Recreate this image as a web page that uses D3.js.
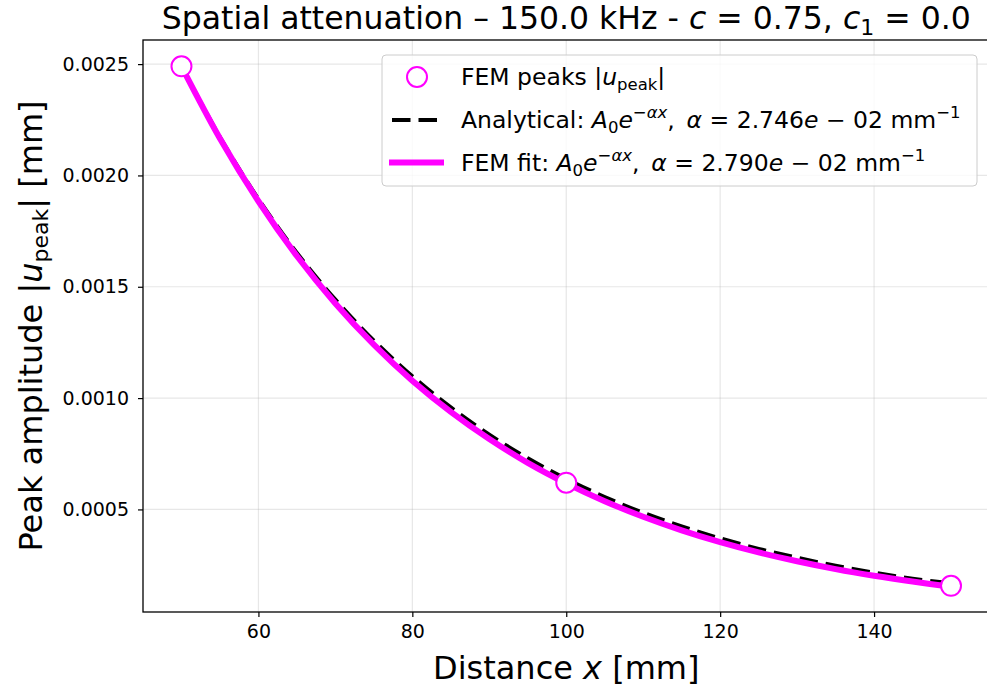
<!DOCTYPE html>
<html><head><meta charset="utf-8">
<script src="https://cdn.jsdelivr.net/npm/d3@7"></script>
<style>
body{margin:0;background:#fff;}
text{font-family:"DejaVu Sans",sans-serif;}
</style></head>
<body><svg id="c" width="987" height="691"></svg>
<script>
// Data
const peakX = [50, 100, 150];
const peakY = [0.002490, 0.000620, 0.000157];
const curveX = [50,55,60,65,70,75,80,85,90,95,100,105,110,115,120,125,130,135,140,145,150];
const fitY = [0.002490,0.002166,0.001884,0.001638,0.001425,0.001240,0.001078,0.000938,0.000816,0.000709,0.000617,0.000537,0.000467,0.000406,0.000353,0.000307,0.000267,0.000232,0.000202,0.000176,0.000153];
const anaY = [0.002490,0.002172,0.001894,0.001652,0.001442,0.001258,0.001098,0.000958,0.000836,0.000730,0.000637,0.000556,0.000485,0.000424,0.000370,0.000323,0.000283,0.000247,0.000216,0.000189,0.000168];
const xTicks = [60, 80, 100, 120, 140];
const yTicks = [0.0005, 0.0010, 0.0015, 0.0020, 0.0025];

const svg = d3.select("#c");
const L = 143, R = 989.5, T = 40, B = 612;
const x = d3.scaleLinear().domain([45, 155]).range([L, R]);
const y = d3.scaleLinear().domain([0.0000393, 0.0026083]).range([B, T]);

svg.append("defs").append("clipPath").attr("id","clip")
  .append("rect").attr("x",L).attr("y",T).attr("width",R-L).attr("height",B-T);

// grid
const grid = svg.append("g");
xTicks.forEach(t => grid.append("line").attr("x1",x(t)).attr("x2",x(t)).attr("y1",T).attr("y2",B)
  .attr("stroke","#b0b0b0").attr("stroke-opacity",0.3).attr("stroke-width",1.2));
yTicks.forEach(t => grid.append("line").attr("y1",y(t)).attr("y2",y(t)).attr("x1",L).attr("x2",R)
  .attr("stroke","#b0b0b0").attr("stroke-opacity",0.3).attr("stroke-width",1.2));

// axes
const xa = svg.append("g").attr("transform",`translate(0,${B})`)
  .call(d3.axisBottom(x).tickValues(xTicks).tickSize(5).tickPadding(8).tickFormat(d3.format("d")));
const ya = svg.append("g").attr("transform",`translate(${L},0)`)
  .call(d3.axisLeft(y).tickValues(yTicks).tickSize(5).tickPadding(9).tickFormat(d3.format(".4f")));
[xa, ya].forEach(a => {
  a.select(".domain").remove();
  a.selectAll(".tick line").attr("stroke","#000").attr("stroke-width",1.2);
  a.selectAll(".tick text").attr("font-size",19).attr("fill","#000").attr("font-family","DejaVu Sans");
});

// lines
const plot = svg.append("g").attr("clip-path","url(#clip)");
const line = d3.line().x(d => x(d[0])).y(d => y(d[1])).curve(d3.curveCatmullRom.alpha(0.5));
plot.append("path").datum(curveX.map((v,i)=>[v, anaY[i]])).attr("d",line)
  .attr("fill","none").attr("stroke","#000").attr("stroke-width",4).attr("stroke-dasharray","18.5,8");
plot.append("path").datum(curveX.map((v,i)=>[v, fitY[i]])).attr("d",line)
  .attr("fill","none").attr("stroke","#ff00ff").attr("stroke-width",6);
plot.selectAll("circle.pk").data(peakX.map((v,i)=>[v, peakY[i]])).enter().append("circle")
  .attr("cx",d=>x(d[0])).attr("cy",d=>y(d[1])).attr("r",10)
  .attr("fill","#fff").attr("stroke","#ff00ff").attr("stroke-width",2);

// spines
svg.append("rect").attr("x",L).attr("y",T).attr("width",R-L).attr("height",B-T)
  .attr("fill","none").attr("stroke","#000").attr("stroke-width",1.3);

// title
const title = svg.append("text").attr("x",(L+R)/2).attr("y",29).attr("text-anchor","middle")
  .attr("font-size",31.5).attr("fill","#000");
title.append("tspan").text("Spatial attenuation – 150.0 kHz - ");
title.append("tspan").attr("font-style","italic").text("c");
title.append("tspan").text(" = 0.75, ");
title.append("tspan").attr("font-style","italic").text("c");
title.append("tspan").attr("font-size",22).attr("dy",6).text("1");
title.append("tspan").attr("dy",-6).text(" = 0.0");

// x label
const xl = svg.append("text").attr("x",(L+R)/2).attr("y",679).attr("text-anchor","middle")
  .attr("font-size",32).attr("fill","#000");
xl.append("tspan").text("Distance ");
xl.append("tspan").attr("font-style","italic").text("x");
xl.append("tspan").text(" [mm]");

// y label
const yl = svg.append("text").attr("transform",`translate(42,${(T+B)/2}) rotate(-90)`).attr("text-anchor","middle")
  .attr("font-size",32).attr("fill","#000");
yl.append("tspan").text("Peak amplitude |");
yl.append("tspan").attr("font-style","italic").text("u");
yl.append("tspan").attr("font-size",22).attr("dy",6).text("peak");
yl.append("tspan").attr("dy",-6).text("| [mm]");

// legend
const lg = svg.append("g");
lg.append("rect").attr("x",382).attr("y",55).attr("width",595).attr("height",131).attr("rx",4)
  .attr("fill","#fff").attr("fill-opacity",0.8).attr("stroke","#cccccc").attr("stroke-width",1);
lg.append("circle").attr("cx",417).attr("cy",77).attr("r",10).attr("fill","#fff")
  .attr("stroke","#ff00ff").attr("stroke-width",2);
lg.append("line").attr("x1",392).attr("x2",444).attr("y1",120).attr("y2",120)
  .attr("stroke","#000").attr("stroke-width",4).attr("stroke-dasharray","18.5,8");
lg.append("line").attr("x1",389).attr("x2",444).attr("y1",162.5).attr("y2",162.5)
  .attr("stroke","#ff00ff").attr("stroke-width",6);
const fs = 23.5, ss = 16.5;
const t1 = lg.append("text").attr("x",461).attr("y",85).attr("font-size",fs).attr("fill","#000");
t1.append("tspan").text("FEM peaks |");
t1.append("tspan").attr("font-style","italic").text("u");
t1.append("tspan").attr("font-size",ss).attr("dy",5).text("peak");
t1.append("tspan").attr("dy",-5).text("|");
function eq(t, a){
  t.append("tspan").attr("font-style","italic").text("A");
  t.append("tspan").attr("font-size",ss).attr("dy",5).text("0");
  t.append("tspan").attr("dy",-5).attr("font-style","italic").text("e");
  t.append("tspan").attr("font-size",ss).attr("dy",-10).text("−");
  t.append("tspan").attr("font-size",ss).attr("font-style","italic").text("αx");
  t.append("tspan").attr("dy",10).text(",\u2002");
  t.append("tspan").attr("font-style","italic").text("α");
  t.append("tspan").text(" = " + a);
  t.append("tspan").attr("font-style","italic").text("e");
  t.append("tspan").text(" − 02 mm");
  t.append("tspan").attr("font-size",ss).attr("dy",-10).text("−1");
}
const t2 = lg.append("text").attr("x",461).attr("y",128).attr("font-size",fs).attr("fill","#000");
t2.append("tspan").text("Analytical: ");
eq(t2, "2.746");
const t3 = lg.append("text").attr("x",461).attr("y",171).attr("font-size",fs).attr("fill","#000");
t3.append("tspan").text("FEM fit: ");
eq(t3, "2.790");
</script></body></html>
